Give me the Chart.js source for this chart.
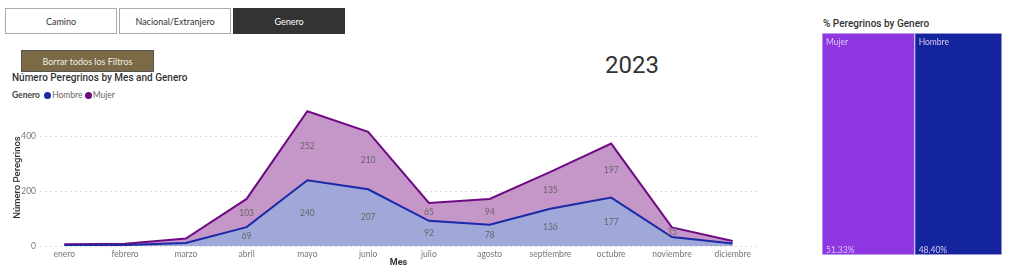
<!DOCTYPE html>
<html>
<head>
<meta charset="utf-8">
<script src="https://cdn.jsdelivr.net/npm/chart.js@4"></script>
<style>
  body { margin: 0; width: 1024px; height: 280px; background: #fff; position: relative; overflow: hidden; font-family: Lato, sans-serif; }
  .btn { position: absolute; box-sizing: border-box; top: 8px; height: 26px; width: 112px; border: 1px solid #aaa; background: #fff; color: #333; font-size: 9px; display: flex; align-items: center; justify-content: center; }
  .btn.active { background: #333; color: #fff; border-color: #333; }
  #clear-btn { position: absolute; left: 21px; top: 50px; width: 133px; height: 22px; box-sizing: border-box; background: #7b6a45; border: 1px solid #555; color: #eee; font-size: 9px; display: flex; align-items: center; justify-content: center; }
  .visual-title { position: absolute; font-family: Roboto, sans-serif; font-weight: 500; font-size: 10px; color: #333; white-space: nowrap; }
  #legend { position: absolute; left: 12px; top: 90px; font-size: 8.5px; color: #666; white-space: nowrap; }
  #legend b { color: #444; margin-right: 2px; }
  #legend .dot { display: inline-block; width: 7px; height: 7px; border-radius: 50%; margin-right: 1px; vertical-align: -1px; }
  #year { position: absolute; left: 590px; top: 51px; width: 84px; text-align: center; font-family: Roboto, sans-serif; font-size: 24px; color: #333; }
  #area-wrap { position: absolute; left: 0; top: 100px; width: 760px; height: 175px; }
  #tree-wrap { position: absolute; left: 822px; top: 33px; width: 180px; height: 222px; }
</style>
</head>
<body>
<div class="btn" style="left:5px">Camino</div>
<div class="btn" style="left:119px">Nacional/Extranjero</div>
<div class="btn active" style="left:233px">Genero</div>
<div id="clear-btn">Borrar todos los Filtros</div>

<div class="visual-title" style="left:12px; top:72px">Número Peregrinos by Mes and Genero</div>
<div id="legend">
  <b>Genero</b> <span class="dot" style="background:#1a2aa6"></span>Hombre <span class="dot" style="background:#6f0b82"></span>Mujer
</div>
<div id="year">2023</div>

<div class="visual-title" style="left:823px; top:18px">% Peregrinos by Genero</div>

<div id="area-wrap"><canvas id="areaChart"></canvas></div>
<div id="tree-wrap"><canvas id="treeChart"></canvas></div>

<script>
// Data
const months = ['enero', 'febrero', 'marzo', 'abril', 'mayo', 'junio', 'julio', 'agosto', 'septiembre', 'octubre', 'noviembre', 'diciembre'];
const hombre = [2, 4, 11, 69, 240, 207, 92, 78, 136, 177, 33, 9];
const mujer = [4, 4, 16, 103, 252, 210, 65, 94, 135, 197, 35, 9];
const yTicks = [0, 200, 400];
const genderLabels = ['Mujer', 'Hombre'];
const genderShare = [51.33, 48.40];

const smallFont = 'Lato, sans-serif';

// Draws the value in the middle of each stacked band (like Power BI data labels)
const bandLabels = {
    id: 'bandLabels',
    afterDatasetsDraw(chart) {
        const ctx = chart.ctx;
        const y = chart.scales.y;
        ctx.save();
        ctx.font = '8.5px ' + smallFont;
        ctx.fillStyle = '#666';
        ctx.textAlign = 'center';
        ctx.textBaseline = 'middle';
        chart.data.datasets.forEach((ds, di) => {
            const meta = chart.getDatasetMeta(di);
            ds.data.forEach((pt, i) => {
                if (pt.y < 35) return;  // small bands have no label
                const base = di === 0 ? 0 : hombre[i];
                ctx.fillText(pt.y, meta.data[i].x, y.getPixelForValue(base + pt.y / 2));
            });
        });
        ctx.restore();
    }
};

const areaCtx = document.getElementById('areaChart').getContext('2d');
new Chart(areaCtx, {
    type: 'line',
    data: {
        datasets: [{
            label: 'Hombre',
            data: hombre.map((v, i) => ({ x: i, y: v })),
            borderColor: '#1a2aa6',
            backgroundColor: '#a0a7d9',
            fill: 'origin'
        }, {
            label: 'Mujer',
            data: mujer.map((v, i) => ({ x: i, y: v })),
            borderColor: '#6f0b82',
            backgroundColor: '#c596c8',
            fill: '-1'
        }]
    },
    options: {
        responsive: true,
        maintainAspectRatio: false,
        animation: false,
        layout: { padding: { left: 12, top: 8, right: 3, bottom: 7 } },
        elements: {
            line: { borderWidth: 2, tension: 0 },
            point: { radius: 0 }
        },
        plugins: {
            legend: { display: false },
            tooltip: { enabled: false }
        },
        scales: {
            x: {
                type: 'linear',
                min: -0.4,
                max: 11.4,
                grid: { display: false, drawTicks: false },
                border: { display: false },
                afterBuildTicks: scale => { scale.ticks = months.map((m, i) => ({ value: i })); },
                afterFit: scale => { scale.height = 22; },
                ticks: {
                    autoSkip: false,
                    maxRotation: 0,
                    padding: 3,
                    color: '#777',
                    font: { family: smallFont, size: 8.5 },
                    callback: value => months[value]
                },
                title: {
                    display: true,
                    text: 'Mes',
                    color: '#333',
                    padding: 0,
                    font: { family: 'Roboto, sans-serif', size: 9, weight: 'bold' }
                }
            },
            y: {
                stacked: true,
                min: 0,
                max: 500,
                grid: { color: '#dcdcdc', drawTicks: false },
                border: { display: false, dash: [2, 3] },
                afterBuildTicks: scale => { scale.ticks = yTicks.map(v => ({ value: v })); },
                afterFit: scale => { scale.width = 28; },
                ticks: {
                    padding: 4,
                    color: '#777',
                    font: { family: smallFont, size: 8.5 }
                },
                title: {
                    display: true,
                    text: 'Número Peregrinos',
                    color: '#333',
                    padding: 0,
                    font: { family: 'Roboto, sans-serif', size: 9.5, weight: 500 }
                }
            }
        }
    },
    plugins: [bandLabels]
});

// Treemap with two cells, drawn as one 100% stacked horizontal bar
const cellLabels = {
    id: 'cellLabels',
    afterDatasetsDraw(chart) {
        const ctx = chart.ctx;
        ctx.save();
        ctx.font = '8.5px ' + smallFont;
        ctx.fillStyle = '#d9c9f5';
        ctx.textAlign = 'left';
        chart.data.datasets.forEach((ds, di) => {
            const bar = chart.getDatasetMeta(di).data[0];
            const left = Math.min(bar.x, bar.base);
            const top = bar.y - bar.height / 2;
            const bottom = bar.y + bar.height / 2;
            ctx.textBaseline = 'middle';
            ctx.fillText(ds.label, left + 4, top + 9);
            ctx.fillText(ds.data[0].toFixed(2) + '%', left + 4, bottom - 5);
        });
        ctx.restore();
    }
};

const treeColors = ['#8e36e2', '#13249c'];
const treeCtx = document.getElementById('treeChart').getContext('2d');
new Chart(treeCtx, {
    type: 'bar',
    data: {
        labels: ['Genero'],
        datasets: genderLabels.map((g, i) => ({
            label: g,
            data: [genderShare[i]],
            backgroundColor: treeColors[i],
            borderColor: '#c9bdf2',
            borderWidth: 1,
            borderSkipped: false,
            barPercentage: 1,
            categoryPercentage: 1
        }))
    },
    options: {
        indexAxis: 'y',
        responsive: true,
        maintainAspectRatio: false,
        animation: false,
        layout: { padding: 0 },
        plugins: {
            legend: { display: false },
            tooltip: { enabled: false }
        },
        scales: {
            x: { stacked: true, display: false, min: 0, max: genderShare.reduce((a, b) => a + b, 0) },
            y: { stacked: true, display: false }
        }
    },
    plugins: [cellLabels]
});
</script>
</body>
</html>
